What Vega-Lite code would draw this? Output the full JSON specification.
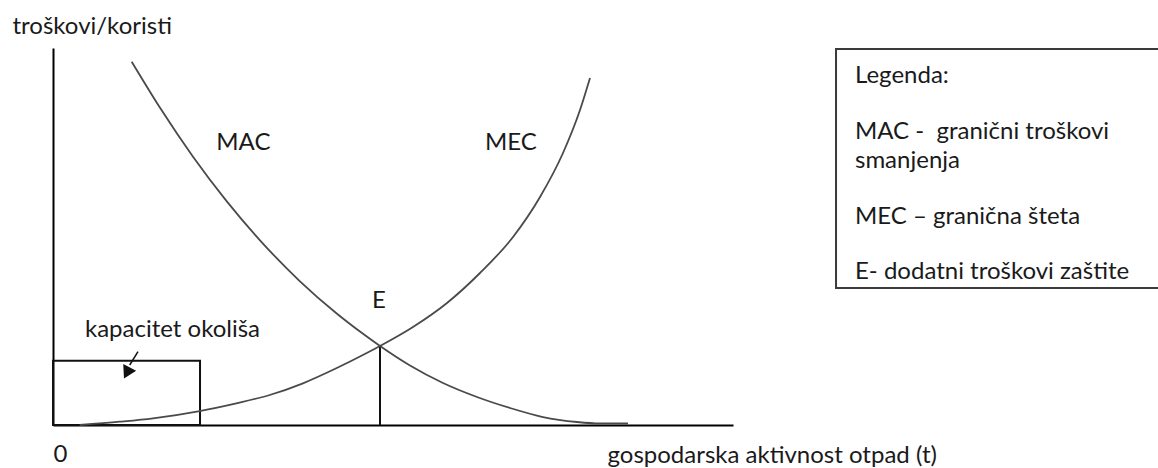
{
  "$schema": "https://vega.github.io/schema/vega-lite/v6.json",
  "width": 680,
  "height": 377,
  "autosize": {"type": "none"},
  "padding": {"left": 53, "top": 48, "right": 425, "bottom": 43},
  "background": "white",
  "config": {
    "view": {"stroke": null},
    "font": "Lato",
    "axis": {"domainColor": "#000000", "domainWidth": 2, "ticks": false, "grid": false}
  },
  "datasets": {
    "curves": [
      {"curve": "MAC", "x": 1.157, "y": 9.637},
      {"curve": "MAC", "x": 1.574, "y": 8.414},
      {"curve": "MAC", "x": 2.059, "y": 7.117},
      {"curve": "MAC", "x": 2.559, "y": 5.926},
      {"curve": "MAC", "x": 3.044, "y": 4.899},
      {"curve": "MAC", "x": 3.632, "y": 3.812},
      {"curve": "MAC", "x": 4.172, "y": 2.958},
      {"curve": "MAC", "x": 4.559, "y": 2.419},
      {"curve": "MAC", "x": 4.809, "y": 2.095},
      {"curve": "MAC", "x": 5.25, "y": 1.578},
      {"curve": "MAC", "x": 5.735, "y": 1.114},
      {"curve": "MAC", "x": 6.235, "y": 0.743},
      {"curve": "MAC", "x": 6.721, "y": 0.451},
      {"curve": "MAC", "x": 7.206, "y": 0.212},
      {"curve": "MAC", "x": 7.706, "y": 0.08},
      {"curve": "MAC", "x": 8.044, "y": 0.04},
      {"curve": "MAC", "x": 8.456, "y": 0.04},
      {"curve": "MEC", "x": 0.393, "y": 0.0},
      {"curve": "MEC", "x": 0.981, "y": 0.088},
      {"curve": "MEC", "x": 1.471, "y": 0.178},
      {"curve": "MEC", "x": 2.157, "y": 0.371},
      {"curve": "MEC", "x": 2.696, "y": 0.576},
      {"curve": "MEC", "x": 3.187, "y": 0.796},
      {"curve": "MEC", "x": 3.676, "y": 1.106},
      {"curve": "MEC", "x": 4.166, "y": 1.504},
      {"curve": "MEC", "x": 4.607, "y": 1.902},
      {"curve": "MEC", "x": 4.809, "y": 2.095},
      {"curve": "MEC", "x": 5.294, "y": 2.599},
      {"curve": "MEC", "x": 5.794, "y": 3.236},
      {"curve": "MEC", "x": 6.279, "y": 4.032},
      {"curve": "MEC", "x": 6.765, "y": 4.987},
      {"curve": "MEC", "x": 7.162, "y": 6.048},
      {"curve": "MEC", "x": 7.5, "y": 7.215},
      {"curve": "MEC", "x": 7.75, "y": 8.355},
      {"curve": "MEC", "x": 7.897, "y": 9.204}
    ],
    "capacity": [{"x": 0, "x2": 2.162, "y": 0, "y2": 1.706}],
    "legendbox": [{"x": 11.515, "x2": 16.4, "y": 3.634, "y2": 9.973}],
    "equilibrium": [{"x": 4.809, "y": 0, "y2": 2.095}],
    "arrow": [{"x": 1.25, "y": 1.944, "x2": 1.128, "y2": 1.592}],
    "arrowhead": [{"x": 1.1, "y": 1.43}],
    "labels": [
      {"text": "MAC", "x": 2.8, "y": 7.294},
      {"text": "MEC", "x": 6.735, "y": 7.294},
      {"text": "E", "x": 4.794, "y": 3.103},
      {"text": "kapacitet okoliša", "x": 1.757, "y": 2.342}
    ],
    "legendtext": [
      {"text": "Legenda:", "x": 11.794, "y": 9.08},
      {"text": "MAC - \u00a0granični troškovi", "x": 11.794, "y": 7.578},
      {"text": "smanjenja", "x": 11.794, "y": 6.809},
      {"text": "MEC – granična šteta", "x": 11.794, "y": 5.324},
      {"text": "E- dodatni troškovi zaštite", "x": 11.794, "y": 3.865}
    ]
  },
  "layer": [
    {
      "data": {"name": "legendbox"},
      "mark": {"type": "rect", "fill": "white", "stroke": "#3a3a3a", "strokeWidth": 2, "clip": false},
      "encoding": {
        "x": {"field": "x", "type": "quantitative", "scale": {"domain": [0, 10], "nice": false, "zero": false},
          "axis": {"values": [0], "labelExpr": "'0'", "labelFontSize": 24, "labelColor": "#1a1a1a", "labelPadding": 17, "labelDx": -5, "labelFont": "Lato",
            "title": "gospodarska aktivnost otpad (t)", "titleFont": "Lato", "titleFontSize": 24, "titleFontWeight": "normal",
            "titleColor": "#1a1a1a", "titleAnchor": "start", "titleAlign": "left", "titleBaseline": "alphabetic",
            "titleX": 554, "titleY": 37}},
        "x2": {"field": "x2"},
        "y": {"field": "y", "type": "quantitative", "scale": {"domain": [0, 10], "nice": false, "zero": false},
          "axis": {"labels": false, "title": "troškovi/koristi", "titleFont": "Lato", "titleFontSize": 24,
            "titleFontWeight": "normal", "titleColor": "#1a1a1a", "titleAngle": 0, "titleAlign": "left",
            "titleBaseline": "alphabetic", "titleAnchor": "end", "titleX": -41, "titleY": -15}},
        "y2": {"field": "y2"}
      }
    },
    {
      "data": {"name": "capacity"},
      "mark": {"type": "rect", "fill": null, "fillOpacity": 0, "stroke": "#111111", "strokeWidth": 2},
      "encoding": {
        "x": {"field": "x", "type": "quantitative"},
        "x2": {"field": "x2"},
        "y": {"field": "y", "type": "quantitative"},
        "y2": {"field": "y2"}
      }
    },
    {
      "data": {"name": "equilibrium"},
      "mark": {"type": "rule", "color": "#111111", "strokeWidth": 2},
      "encoding": {
        "x": {"field": "x", "type": "quantitative"},
        "y": {"field": "y", "type": "quantitative"},
        "y2": {"field": "y2"}
      }
    },
    {
      "data": {"name": "curves"},
      "mark": {"type": "line", "color": "#4a4a4a", "strokeWidth": 1.8, "interpolate": "monotone"},
      "encoding": {
        "x": {"field": "x", "type": "quantitative"},
        "y": {"field": "y", "type": "quantitative"},
        "detail": {"field": "curve"},
        "order": {"field": "x", "type": "quantitative"}
      }
    },
    {
      "data": {"name": "arrow"},
      "mark": {"type": "rule", "color": "#111111", "strokeWidth": 1.5},
      "encoding": {
        "x": {"field": "x", "type": "quantitative"},
        "y": {"field": "y", "type": "quantitative"},
        "x2": {"field": "x2"},
        "y2": {"field": "y2"}
      }
    },
    {
      "data": {"name": "arrowhead"},
      "mark": {"type": "point", "shape": "triangle", "filled": true, "color": "#111111", "size": 210, "angle": 207, "opacity": 1},
      "encoding": {
        "x": {"field": "x", "type": "quantitative"},
        "y": {"field": "y", "type": "quantitative"}
      }
    },
    {
      "data": {"name": "labels"},
      "mark": {"type": "text", "font": "Lato", "fontSize": 24, "color": "#1a1a1a", "baseline": "alphabetic", "align": "center"},
      "encoding": {
        "x": {"field": "x", "type": "quantitative"},
        "y": {"field": "y", "type": "quantitative"},
        "text": {"field": "text"}
      }
    },
    {
      "data": {"name": "legendtext"},
      "mark": {"type": "text", "font": "Lato", "fontSize": 24, "color": "#1a1a1a", "baseline": "alphabetic", "align": "left", "clip": false},
      "encoding": {
        "x": {"field": "x", "type": "quantitative"},
        "y": {"field": "y", "type": "quantitative"},
        "text": {"field": "text"}
      }
    }
  ]
}
